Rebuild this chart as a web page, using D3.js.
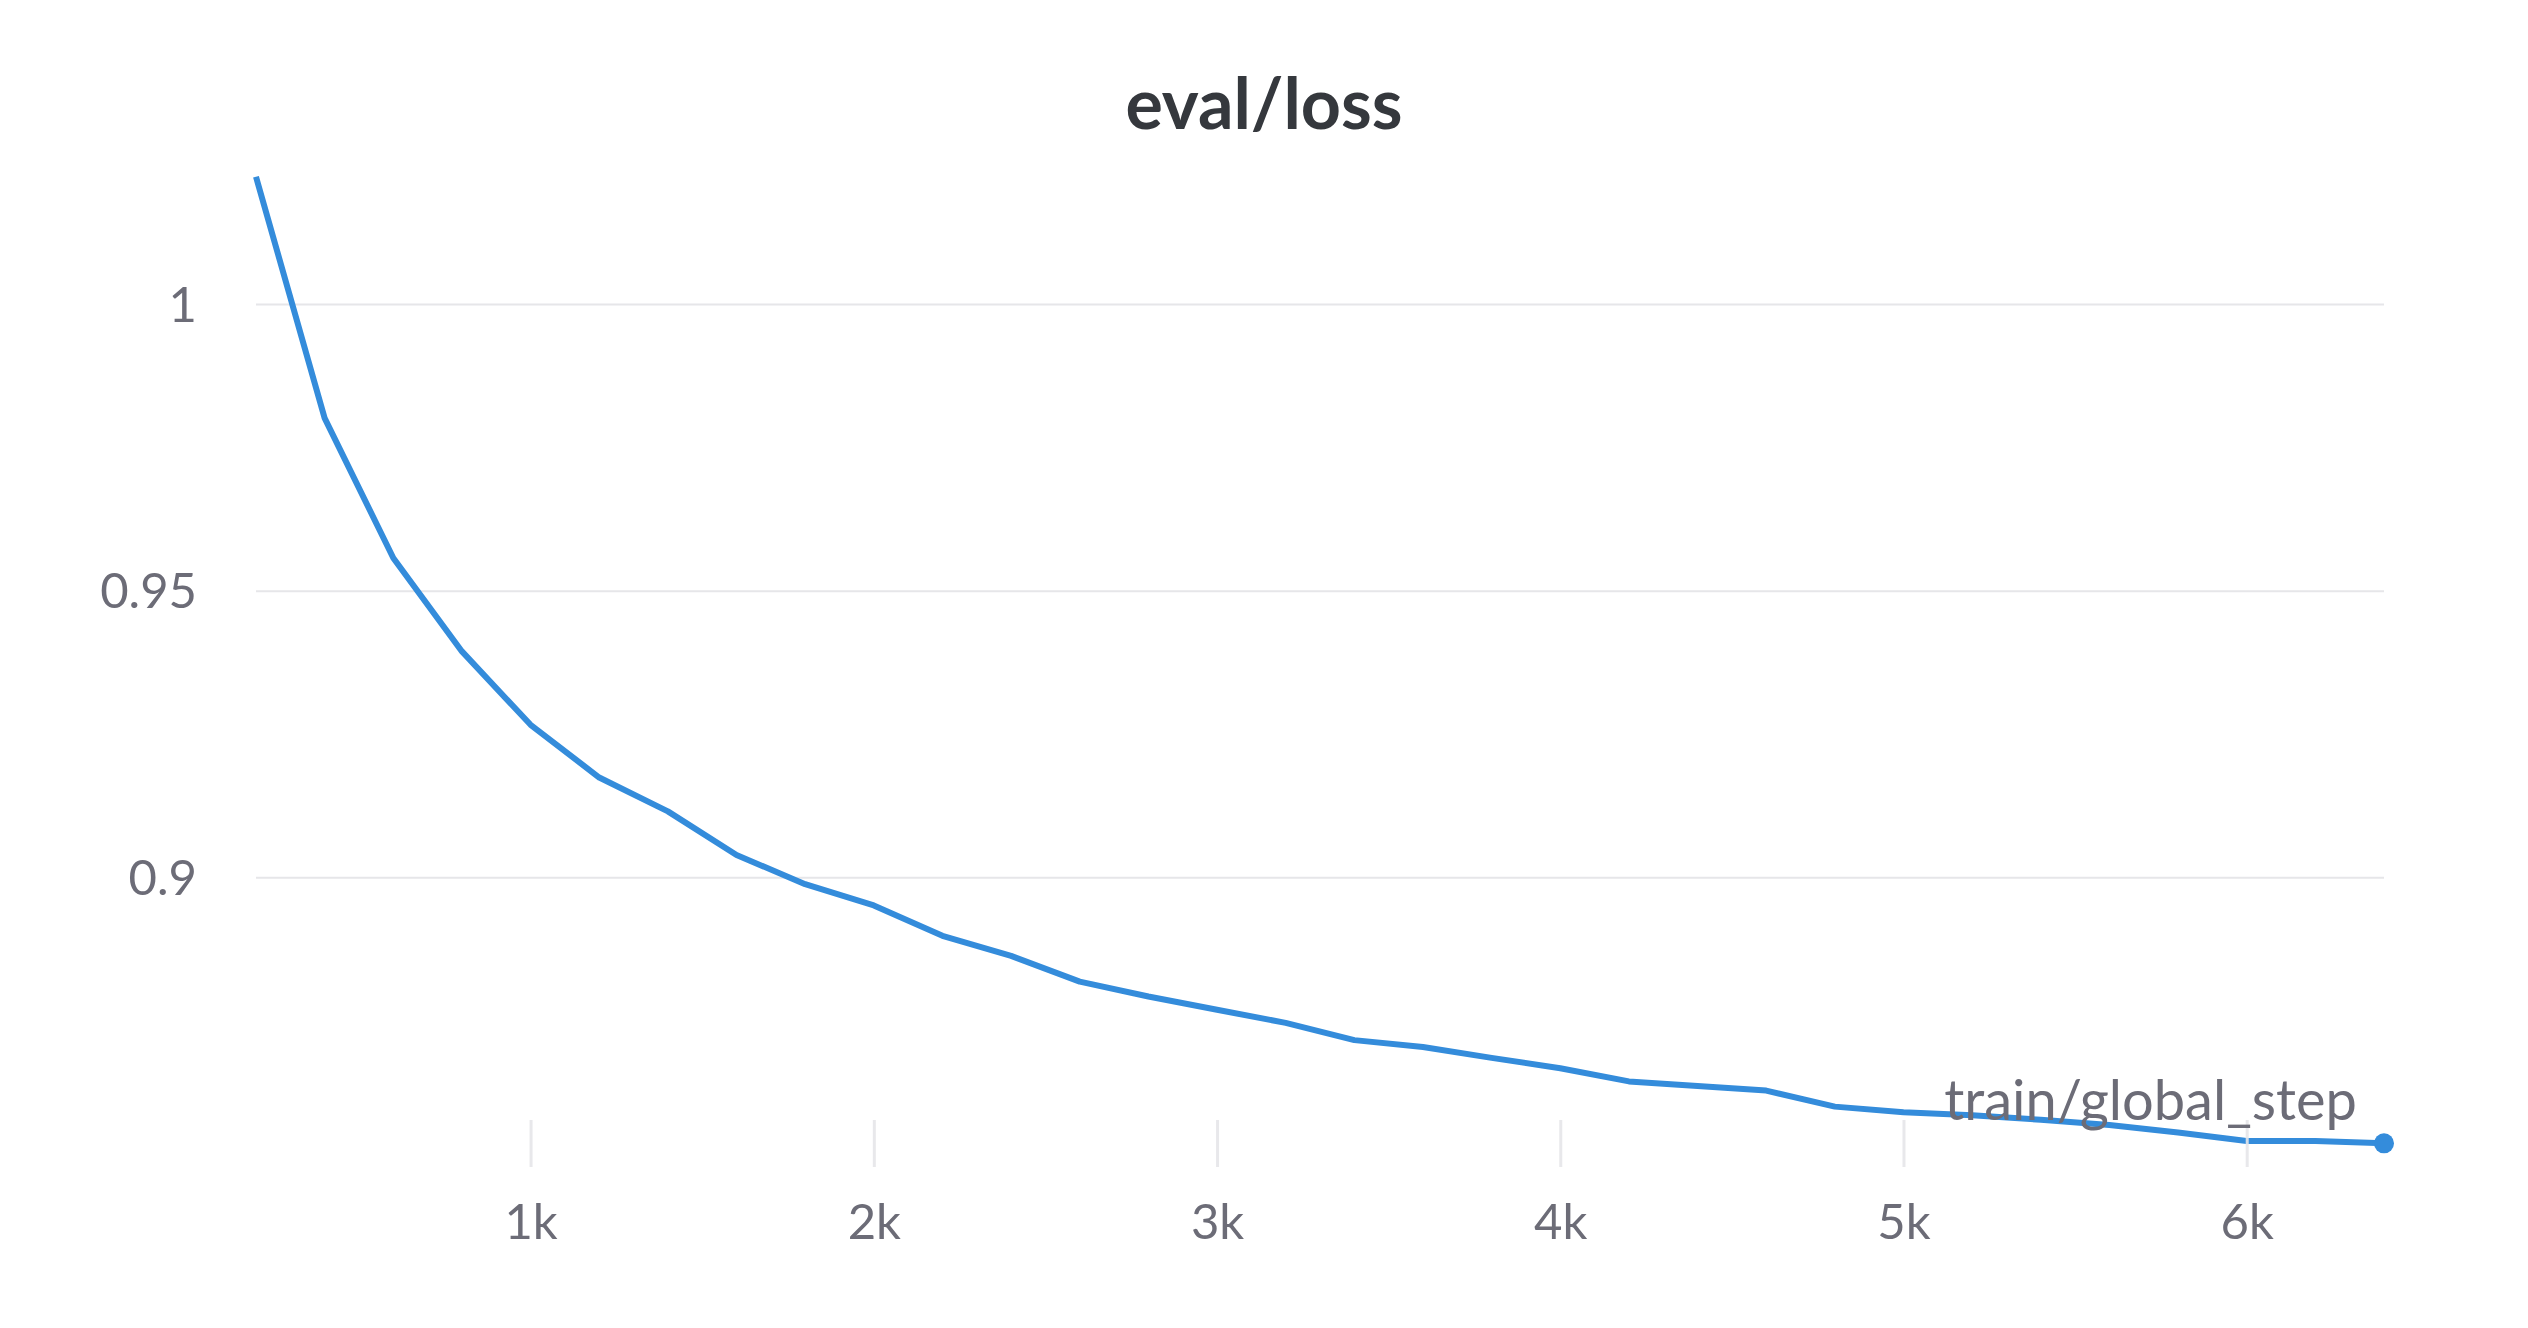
<!DOCTYPE html>
<html>
<head>
<meta charset="utf-8">
<script src="https://cdn.jsdelivr.net/npm/d3@7"></script>
<style>
  html, body { margin: 0; padding: 0; background: #ffffff; }
  svg { display: block; }
</style>
</head>
<body>
<svg id="chart" width="2528" height="1328"></svg>
<script>
const title = "eval/loss";
const xLabel = "train/global_step";
const steps = [200, 400, 600, 800, 1000, 1200, 1400, 1600, 1800, 2000, 2200, 2400, 2600, 2800, 3000, 3200,
               3400, 3600, 3800, 4000, 4200, 4400, 4600, 4800, 5000, 5200, 5400, 5600, 5800, 6000, 6200, 6400];
const loss = [1.0222, 0.9801, 0.9557, 0.9394, 0.9266, 0.9174, 0.9115, 0.9039, 0.8988, 0.8951, 0.8898, 0.8863,
              0.8818, 0.8792, 0.8769, 0.8746, 0.8716, 0.8704, 0.8685, 0.8667, 0.8644, 0.8636, 0.8628, 0.8600,
              0.8590, 0.8585, 0.8577, 0.8568, 0.8555, 0.8540, 0.8540, 0.8536];
const yTicks = [0.9, 0.95, 1];
const yTickLabels = ["0.9", "0.95", "1"];
const xTicks = [1000, 2000, 3000, 4000, 5000, 6000];
const xTickLabels = ["1k", "2k", "3k", "4k", "5k", "6k"];

const svg = d3.select("#chart");
const FONT = "Lato, 'Source Sans Pro', 'Open Sans', sans-serif";

const x = d3.scaleLinear().domain([200, 6400]).range([256, 2384]);
const y = d3.scaleLinear().domain([0.9, 1.0]).range([877.3, 304]);

// title
svg.append("text")
  .attr("x", 1264).attr("y", 129)
  .attr("text-anchor", "middle")
  .attr("font-family", FONT).attr("font-weight", 700)
  .attr("font-size", 70).attr("fill", "#35383d")
  .text(title);

// horizontal grid
const yAxis = d3.axisLeft(y).tickValues(yTicks)
  .tickSize(-(2384 - 256))
  .tickFormat((d, i) => yTickLabels[i]);
const gy = svg.append("g").attr("transform", "translate(256,0)").call(yAxis);
gy.select(".domain").remove();
gy.selectAll(".tick line").attr("stroke", "#e6e6e9").attr("stroke-width", 2);
gy.selectAll(".tick text")
  .attr("x", -59).attr("dy", "0.35em")
  .attr("font-family", FONT).attr("font-size", 49).attr("fill", "#6c6c77");

// line
const line = d3.line().x((d, i) => x(steps[i])).y(d => y(d));
svg.append("path")
  .datum(loss)
  .attr("d", line)
  .attr("fill", "none")
  .attr("stroke", "#348cdb")
  .attr("stroke-width", 6)
  .attr("stroke-linejoin", "round");

svg.append("circle")
  .attr("cx", x(steps[steps.length - 1]))
  .attr("cy", y(loss[loss.length - 1]))
  .attr("r", 10)
  .attr("fill", "#348cdb");

// x axis ticks (drawn on top)
const xAxis = d3.axisBottom(x).tickValues(xTicks)
  .tickSize(47)
  .tickPadding(37)
  .tickFormat((d, i) => xTickLabels[i]);
const gx = svg.append("g").attr("transform", "translate(0,1120)").call(xAxis);
gx.select(".domain").remove();
gx.selectAll(".tick line").attr("stroke", "#e6e6e9").attr("stroke-width", 3).attr("stroke-opacity", 0.9);
gx.selectAll(".tick text")
  .attr("dy", "0.71em")
  .attr("font-family", FONT).attr("font-size", 49).attr("fill", "#6c6c77");

// x label
svg.append("text")
  .attr("x", 2357).attr("y", 1120)
  .attr("text-anchor", "end")
  .attr("font-family", FONT).attr("font-size", 56).attr("fill", "#6c6c77")
  .text(xLabel);
</script>
</body>
</html>
